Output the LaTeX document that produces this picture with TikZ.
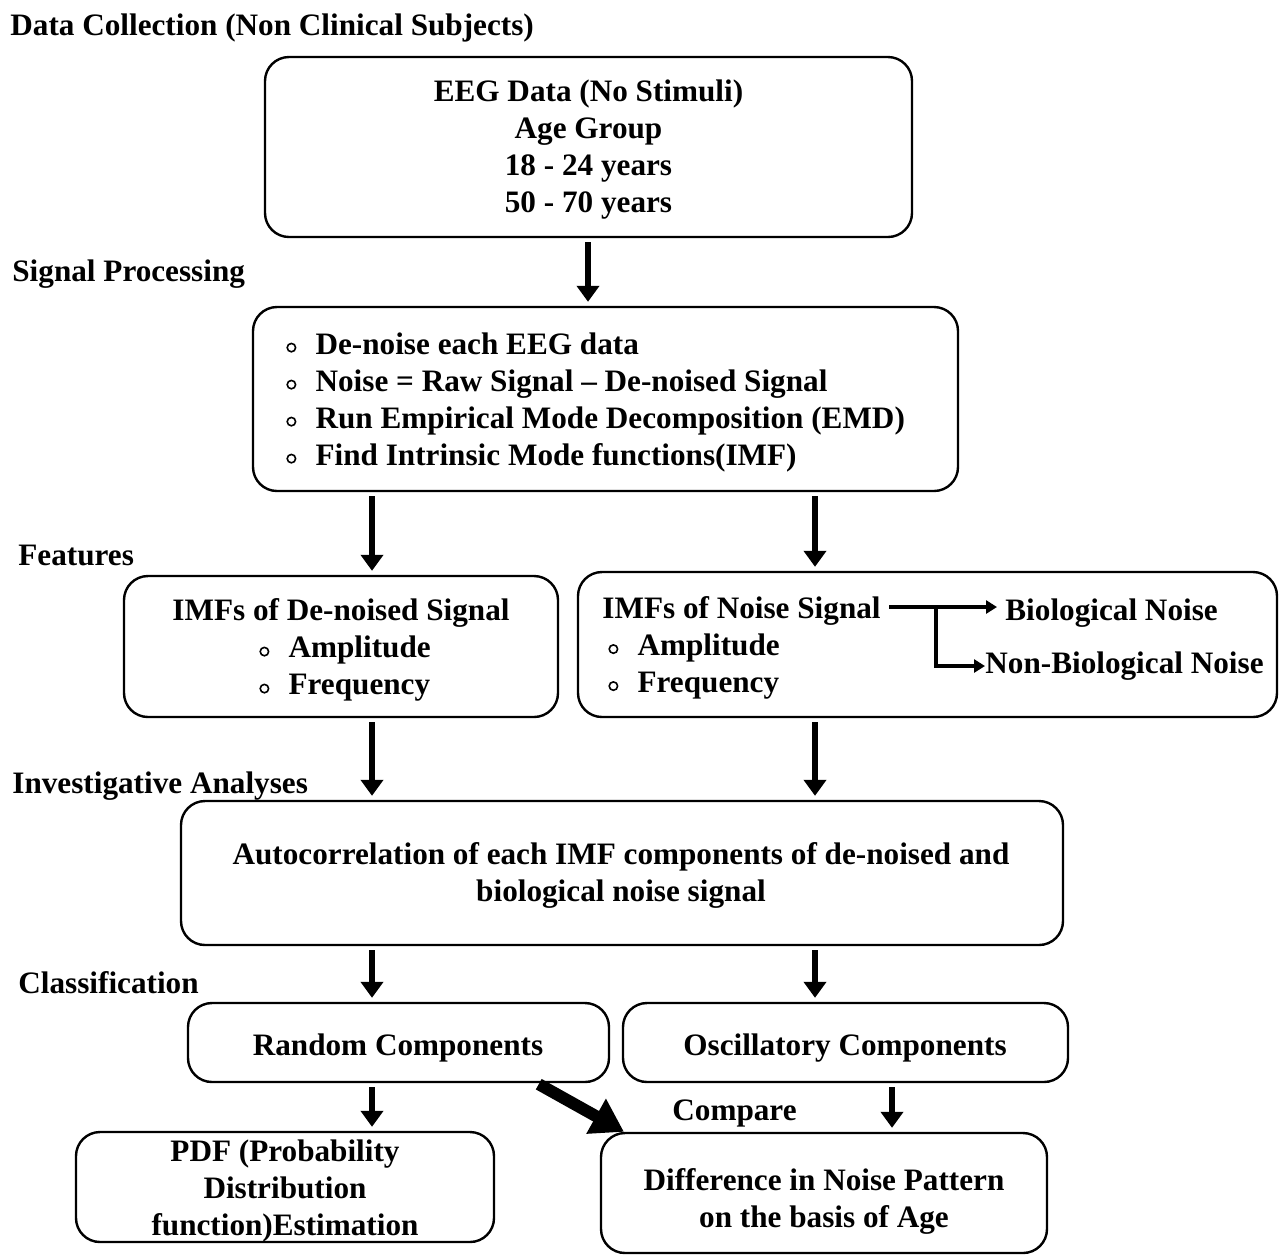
\documentclass[tikz,border=0pt]{standalone}
\usepackage{fontspec}
\setmainfont{Liberation Serif}
\usetikzlibrary{arrows.meta}
\newcommand{\bul}{\tikz[baseline=0pt]{\draw[line width=0.8pt] (2.1pt,3.2pt) circle (2.1pt); \path (0,0) -- (14.2pt,0);}}
\begin{document}
\begin{tikzpicture}[x=0.5pt,y=-0.5pt,
  box/.style={draw, line width=1.2pt, rounded corners=12pt, inner sep=0pt},
  txt/.style={inner sep=0pt, yshift=-1.5pt, font=\fontsize{15.6}{18.5}\selectfont\bfseries, align=center},
  ltxt/.style={inner sep=0pt, yshift=-1.5pt, font=\fontsize{15.6}{18.5}\selectfont\bfseries, align=left, anchor=west},
  head/.style={inner sep=0pt, yshift=-1.5pt, font=\fontsize{15.6}{18.5}\selectfont\bfseries, anchor=west},
  arr/.style={line width=3.2pt, -{Triangle[width=11pt,length=8pt]}, shorten <=2pt, shorten >=2pt},
  thinarr/.style={line width=1.6pt, -{Triangle[width=6.5pt,length=5.5pt]}},
  bigarr/.style={line width=6pt, -{Triangle[width=19pt,length=16pt]}}
]
\useasboundingbox (0,0) rectangle (1283,1255);

% headings
\node[head] (h1) at (10,25) {Data Collection (Non Clinical Subjects)};
\node[head] (h2) at (12,271) {Signal Processing};
\node[head] (h3) at (18,552) {Features};
\node[head] (h4) at (12,783) {Investigative Analyses};
\node[head] (h5) at (18,980) {Classification};

% boxes
\node[box, minimum width=323.5pt, minimum height=90pt] (b1) at (588.5,147) {};
\node[box, minimum width=352.5pt, minimum height=92pt] (b2) at (605.5,399) {};
\node[box, minimum width=217pt, minimum height=70.5pt] (b3) at (341,646.5) {};
\node[box, minimum width=349.5pt, minimum height=72.5pt] (b4) at (927.5,644.5) {};
\node[box, minimum width=441pt, minimum height=72pt] (b5) at (622,873) {};
\node[box, minimum width=210.5pt, minimum height=39.5pt] (b6) at (398.5,1042.5) {};
\node[box, minimum width=222.5pt, minimum height=39.5pt] (b7) at (845.5,1042.5) {};
\node[box, minimum width=209pt, minimum height=55pt] (b8) at (285,1187) {};
\node[box, minimum width=223pt, minimum height=60pt] (b9) at (824,1193) {};

% texts
\node[txt] (t1) at (588.5,147) {EEG Data (No Stimuli)\\Age Group\\18 - 24 years\\50 - 70 years};
\node[ltxt] (t2) at (286,399) {\bul De-noise each EEG data\\\bul Noise = Raw Signal – De-noised Signal\\\bul Run Empirical Mode Decomposition (EMD)\\\bul Find Intrinsic Mode functions(IMF)};
\node[txt] (t3a) at (341,610) {IMFs of De-noised Signal};
\node[ltxt] (t3b) at (259,666) {\bul Amplitude\\\bul Frequency};
\node[head] (nsig) at (602,608) {IMFs of Noise Signal};
\node[ltxt] (t4b) at (608,663.5) {\bul Amplitude\\\bul Frequency};
\node[head] (bio) at (1005,610) {Biological Noise};
\node[head] (nonbio) at (985,663) {Non-Biological Noise};
\node[txt] (t5) at (621,872.5) {Autocorrelation of each IMF components of de-noised and\\biological noise signal};
\node[txt] (t6) at (398,1045) {Random Components};
\node[txt] (t7) at (845,1045) {Oscillatory Components};
\node[txt] (t8) at (285,1187.5) {PDF (Probability\\Distribution\\function)Estimation};
\node[txt] (t9) at (824,1198.5) {Difference in Noise Pattern\\on the basis of Age};
\node[head] (cmp) at (672,1110) {Compare};

% x positions
\coordinate (xa) at (588,0);
\coordinate (xl) at (372,0);
\coordinate (xr) at (815,0);
\coordinate (xo) at (892,0);
\coordinate (xc1) at (537,0);
\coordinate (xc2) at (624,0);
\coordinate (br) at (936,607);

% arrows
\draw[arr] (b1.south -| xa) -- (b2.north -| xa);
\draw[arr] (b2.south -| xl) -- (b3.north -| xl);
\draw[arr] (b2.south -| xr) -- (b4.north -| xr);
\draw[arr] (b3.south -| xl) -- (b5.north -| xl);
\draw[arr] (b4.south -| xr) -- (b5.north -| xr);
\draw[arr] (b5.south -| xl) -- (b6.north -| xl);
\draw[arr] (b5.south -| xr) -- (b7.north -| xr);
\draw[arr] (b6.south -| xl) -- (b8.north -| xl);
\draw[arr] (b7.south -| xo) -- (b9.north -| xo);
\draw[bigarr, shorten <=1pt] (b6.south -| xc1) -- (b9.north -| xc2);

\draw[thinarr, shorten <=4pt, shorten >=4pt] (nsig.east |- br) -- (bio.west |- br);
\draw[thinarr] (br) |- (nonbio.west);
\end{tikzpicture}
\end{document}
